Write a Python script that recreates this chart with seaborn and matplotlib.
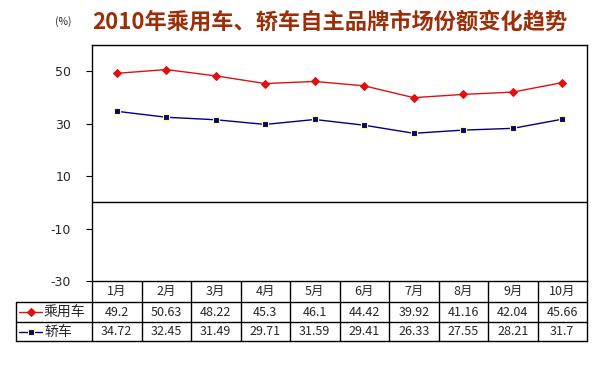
import matplotlib
matplotlib.use("Agg")
import matplotlib.pyplot as plt
import seaborn as sns
import pandas as pd
from matplotlib.lines import Line2D

months = ["1月", "2月", "3月", "4月", "5月", "6月", "7月", "8月", "9月", "10月"]
passenger = [49.2, 50.63, 48.22, 45.3, 46.1, 44.42, 39.92, 41.16, 42.04, 45.66]
sedan = [34.72, 32.45, 31.49, 29.71, 31.59, 29.41, 26.33, 27.55, 28.21, 31.7]
passenger_labels = ["49.2", "50.63", "48.22", "45.3", "46.1", "44.42", "39.92", "41.16", "42.04", "45.66"]
sedan_labels = ["34.72", "32.45", "31.49", "29.71", "31.59", "29.41", "26.33", "27.55", "28.21", "31.7"]
series_names = ["乘用车", "轿车"]
yticks = [-30, -10, 10, 30, 50]
title = "2010年乘用车、轿车自主品牌市场份额变化趋势"

sns.set_style("white")
plt.rcParams['font.family'] = ['Noto Sans CJK SC', 'DejaVu Sans']

W, H = 601, 386
fig = plt.figure(figsize=(W / 100, H / 100), dpi=100)
fig.patch.set_facecolor("white")

# plot area in pixel layout
L, R, T, B = 92, 587, 45, 281
ax = fig.add_axes([L / W, 1 - B / H, (R - L) / W, (B - T) / H])

df = pd.DataFrame({"idx": range(len(months)), "p": passenger, "s": sedan})
red = "#E01010"
navy = "#000080"
sns.lineplot(data=df, x="idx", y="p", ax=ax, color=red, lw=1.0, marker="D",
             markersize=4.2, markeredgecolor=red, markerfacecolor=red)
sns.lineplot(data=df, x="idx", y="s", ax=ax, color=navy, lw=1.0, marker="s",
             markersize=4, markeredgecolor="#FFFF80", markeredgewidth=0.8,
             markerfacecolor=navy)
ax.axhline(0, color="black", lw=1)
ax.set_xlim(-0.5, len(months) - 0.5)
ax.set_ylim(-30, 60)
ax.set_yticks(yticks)
ax.set_yticklabels([str(v) for v in yticks], fontsize=9, family="DejaVu Sans")
ax.tick_params(axis="y", direction="out", length=4, width=0.8, color="black", pad=11, left=True)
ax.set_xticks([])
ax.set_xlabel("")
ax.set_ylabel("")
for sp in ax.spines.values():
    sp.set_color("black")
    sp.set_linewidth(1)
    sp.set_visible(True)

# table
tax = fig.add_axes([0, 0, 1, 1], zorder=-1)
tax.set_xlim(0, W)
tax.set_ylim(H, 0)
tax.axis("off")
TL = 16
rows = [281, 302, 322, 341]
n = len(months)
cw = (R - L) / n
lk = dict(color="black", lw=1)
for y in rows[1:]:
    tax.plot([TL, R], [y, y], **lk)
tax.plot([TL, TL], [rows[1], rows[3]], **lk)
for i in range(n + 1):
    x = L + i * cw
    tax.plot([x, x], [rows[0], rows[3]], **lk)
for i, m in enumerate(months):
    cx = L + (i + 0.5) * cw
    tax.text(cx, (rows[0] + rows[1]) / 2, m, ha="center", va="center", fontsize=9)
    tax.text(cx, (rows[1] + rows[2]) / 2, passenger_labels[i], ha="center", va="center", fontsize=9)
    tax.text(cx, (rows[2] + rows[3]) / 2, sedan_labels[i], ha="center", va="center", fontsize=9)

# legend keys
for r, name, col, mk, mec, ms in [(1, series_names[0], red, "D", red, 4.2),
                                  (2, series_names[1], navy, "s", "#FFFF80", 3.8)]:
    yc = (rows[r] + rows[r + 1]) / 2
    tax.add_line(Line2D([19, 42], [yc, yc], color=col, lw=1.0))
    tax.add_line(Line2D([30.5], [yc], marker=mk, color=col, markersize=ms,
                        markeredgecolor=mec, markeredgewidth=0.8))
    tax.text(44, yc, name, ha="left", va="center", fontsize=10)

fig.text(330 / W, 1 - 22 / H, title, ha="center", va="center", fontsize=16,
         fontweight="bold", color="#9C2F0A")
fig.text(63 / W, 1 - 22 / H, "(%)", ha="center", va="center", fontsize=7.5)

fig.savefig("out.png", dpi=100, facecolor="white")
